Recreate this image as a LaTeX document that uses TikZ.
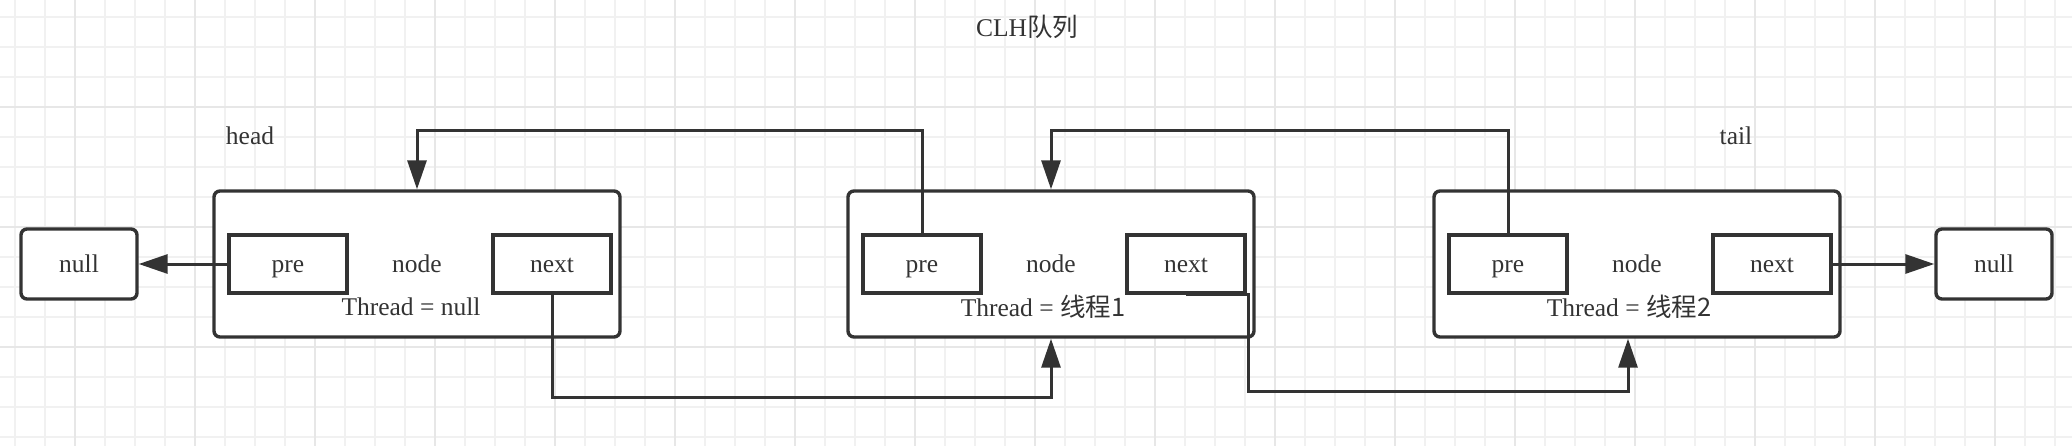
\documentclass[tikz,border=0pt]{standalone}
\usepackage{fontspec}
\setmainfont{Liberation Serif}
\newfontfamily\cjk{Noto Sans CJK SC}
\usepackage{tikz}
\usetikzlibrary{arrows.meta, positioning}
\definecolor{ink}{HTML}{333333}
\definecolor{gridminor}{HTML}{F1F1F1}
\definecolor{gridmajor}{HTML}{E7E7E7}

\begin{document}
\begin{tikzpicture}[
                        x=0.5pt, y=-0.5pt,
                        every node/.style={font=\fontsize{12.75}{15}\selectfont, text=ink},
                        cell/.style={draw=ink, line width=1.7pt, fill=white, rounded corners=3pt,
                                     minimum width=203pt, minimum height=73pt, inner sep=0pt,
                                     text height=8pt, text depth=0pt},
                        field/.style={draw=ink, line width=1.7pt, fill=white,
                                      minimum width=59pt, minimum height=29pt, inner sep=0pt,
                                      text height=8pt, text depth=0pt},
                        nullbox/.style={draw=ink, line width=1.7pt, fill=white, rounded corners=3pt,
                                        minimum width=58pt, minimum height=35pt, inner sep=0pt,
                                        text height=8pt, text depth=0pt},
                        link/.style={draw=ink, line width=1.5pt, -{Triangle[length=14.5pt, width=9.5pt]}}
                        ]

                        % background grid
                        \fill[white] (0,0) rectangle (2072,446);
                        \useasboundingbox (0,0) rectangle (2072,446);
                        \foreach \gx in {15,45,...,2055} \draw[gridminor, line width=0.8pt] (\gx,0) -- (\gx,446);
                        \foreach \gy in {17,47,...,437} \draw[gridminor, line width=0.8pt] (0,\gy) -- (2072,\gy);
                        \foreach \gx in {75,195,...,1995} \draw[gridmajor, line width=1.2pt] (\gx,0) -- (\gx,446);
                        \foreach \gy in {107,227,347} \draw[gridmajor, line width=1.2pt] (0,\gy) -- (2072,\gy);

                        \node (title) at (1027,27) {CLH\cjk{队列}};
                        \node (head) at (250,136) {head};
                        \node (tail) at (1736,136) {tail};

                        \node[nullbox] (null1) at (79,264) {null};
                        \node[nullbox] (null2) at (1994,264) {null};

                        \node[cell] (box1) at (417,264) {node};
                        \node[field, right=7.5pt of box1.west] (pre1) {pre};
                        \node[field, left=4.5pt of box1.east] (next1) {next};
                        \node (thr1) at ([xshift=-3pt, yshift=-21.5pt]box1.center) {Thread = null};

                        \node[cell] (box2) at (1051,264) {node};
                        \node[field, right=7.5pt of box2.west] (pre2) {pre};
                        \node[field, left=4.5pt of box2.east] (next2) {next};
                        \node (thr2) at ([xshift=-4pt, yshift=-21.5pt]box2.center) {Thread = \cjk{线程}1};

                        \node[cell] (box3) at (1637,264) {node};
                        \node[field, right=7.5pt of box3.west] (pre3) {pre};
                        \node[field, left=4.5pt of box3.east] (next3) {next};
                        \node (thr3) at ([xshift=-4pt, yshift=-21.5pt]box3.center) {Thread = \cjk{线程}2};

                        \draw[link] (pre1) -- (null1);
                        \draw[link] (next3) -- (null2);
                        \draw[link] (pre2.north) |- ([yshift=29.5pt]box1.north) -- (box1.north);
                        \draw[link] (pre3.north) |- ([yshift=29.5pt]box2.north) -- (box2.north);
                        \draw[link] (next1.south) |- ([yshift=-29.5pt]box2.south) -- (box2.south);
                        \draw[link] (next2.south) -- ([xshift=1pt]next2.south east)
                          |- ([xshift=-4.5pt, yshift=-26.5pt]box3.south) -- ([xshift=-4.5pt]box3.south);
                      \end{tikzpicture}
\end{document}
